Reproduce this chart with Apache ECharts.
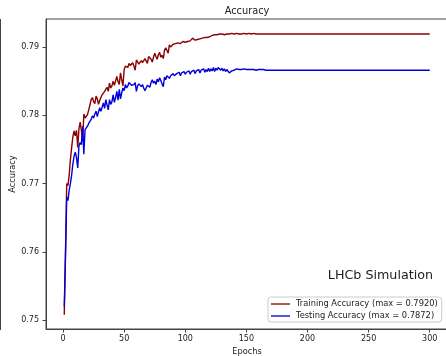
<!DOCTYPE html>
<html>
<head>
<meta charset="utf-8">
<script src="https://cdn.jsdelivr.net/npm/echarts@6/dist/echarts.min.js"></script>
<style>
html,body{margin:0;padding:0;background:#fff;}
#chart{width:446px;height:356px;}
</style>
</head>
<body>
<div id="chart"></div>
<script>
const chartTitle = 'Accuracy';
const xAxisName = 'Epochs';
const yAxisName = 'Accuracy';
const annotation = 'LHCb Simulation';
const firstEpoch = 1;
const xTicks = [0, 50, 100, 150, 200, 250, 300];
const yTicks = [0.75, 0.76, 0.77, 0.78, 0.79];
const trainingName = 'Training Accuracy (max = 0.7920)';
const testingName = 'Testing Accuracy (max = 0.7872)';

const training = [
0.7508,0.7600,0.7700,0.7697,0.7712,0.7735,0.7752,0.7768,0.7777,0.7770,
0.7778,0.7753,0.7780,0.7790,0.7778,0.7762,0.7802,0.7796,0.7795,0.7801,
0.7808,0.7815,0.7823,0.7826,0.7820,0.7817,0.7828,0.7824,0.7816,0.7822,
0.7824,0.7830,0.7828,0.7835,0.7838,0.7841,0.7835,0.7847,0.7840,0.7843,
0.7850,0.7844,0.7850,0.7857,0.7849,0.7845,0.7862,0.7852,0.7843,0.7867,
0.7872,0.7874,0.7870,0.7876,0.7873,0.7875,0.7877,0.7872,0.7866,0.7881,
0.7879,0.7875,0.7877,0.7880,0.7877,0.7879,0.7883,0.7881,0.7876,0.7886,
0.7884,0.7882,0.7878,0.7885,0.7891,0.7886,0.7882,0.7889,0.7892,0.7885,
0.7888,0.7883,0.7895,0.7899,0.7897,0.7891,0.7903,0.7900,0.7899,0.7904,
0.7902,0.7905,0.7903,0.7906,0.7907,0.7905,0.7906,0.7908,0.7906,0.7907,
0.7907,0.7908,0.7906,0.7909,0.7908,0.7913,0.7911,0.7910,0.7912,0.7911,
0.7913,0.7912,0.7914,0.7913,0.7915,0.7914,0.7915,0.7914,0.7916,0.7915,
0.7916,0.7917,0.7916,0.7918,0.7917,0.7918,0.7918,0.7919,0.7918,0.7919,
0.7919,0.7918,0.7919,0.7919,0.7920,0.7919,0.7919,0.7920,0.7919,0.7919,
0.7919,0.7920,0.7919,0.7919,0.7920,0.7919,0.7920,0.7920,0.7920,0.7919,
0.7919,0.7920,0.7919,0.7919,0.7919,0.7920,0.7919,0.7919,0.7919,0.7919,
0.7919,0.7919,0.7920,0.7919,0.7919,0.7919,0.7919,0.7919,0.7920,0.7919,
0.7919,0.7919,0.7919,0.7919,0.7919,0.7919,0.7919,0.7919,0.7919,0.7919,
0.7919,0.7919,0.7919,0.7919,0.7919,0.7919,0.7919,0.7919,0.7919,0.7919,
0.7919,0.7919,0.7919,0.7919,0.7919,0.7919,0.7919,0.7919,0.7919,0.7919,
0.7919,0.7919,0.7919,0.7919,0.7919,0.7919,0.7919,0.7919,0.7919,0.7919,
0.7919,0.7919,0.7919,0.7919,0.7919,0.7919,0.7919,0.7919,0.7919,0.7919,
0.7919,0.7919,0.7919,0.7919,0.7919,0.7919,0.7919,0.7919,0.7919,0.7919,
0.7919,0.7919,0.7919,0.7919,0.7919,0.7919,0.7919,0.7919,0.7919,0.7919,
0.7919,0.7919,0.7919,0.7919,0.7919,0.7919,0.7919,0.7919,0.7919,0.7919,
0.7919,0.7919,0.7919,0.7919,0.7919,0.7919,0.7919,0.7919,0.7919,0.7919,
0.7919,0.7919,0.7919,0.7919,0.7919,0.7919,0.7919,0.7919,0.7919,0.7919,
0.7919,0.7919,0.7919,0.7919,0.7919,0.7919,0.7919,0.7919,0.7919,0.7919,
0.7919,0.7919,0.7919,0.7919,0.7919,0.7919,0.7919,0.7919,0.7919,0.7919,
0.7919,0.7919,0.7919,0.7919,0.7919,0.7919,0.7919,0.7919,0.7919,0.7919
];

const testing = [
0.7520,0.7593,0.7680,0.7675,0.7690,0.7700,0.7712,0.7728,0.7740,0.7746,
0.7738,0.7723,0.7755,0.7760,0.7757,0.7784,0.7743,0.7779,0.7780,0.7784,
0.7788,0.7791,0.7794,0.7799,0.7796,0.7802,0.7806,0.7798,0.7805,0.7811,
0.7806,0.7812,0.7818,0.7810,0.7823,0.7815,0.7808,0.7823,0.7816,0.7820,
0.7830,0.7819,0.7826,0.7835,0.7822,0.7838,0.7824,0.7833,0.7840,0.7836,
0.7845,0.7840,0.7843,0.7848,0.7850,0.7844,0.7846,0.7845,0.7848,0.7835,
0.7843,0.7846,0.7844,0.7842,0.7845,0.7840,0.7836,0.7838,0.7844,0.7846,
0.7841,0.7848,0.7852,0.7847,0.7850,0.7845,0.7853,0.7849,0.7855,0.7851,
0.7846,0.7842,0.7856,0.7852,0.7858,0.7860,0.7854,0.7858,0.7857,0.7861,
0.7858,0.7856,0.7861,0.7859,0.7863,0.7858,0.7862,0.7860,0.7864,0.7860,
0.7863,0.7861,0.7865,0.7860,0.7864,0.7862,0.7866,0.7861,0.7865,0.7863,
0.7867,0.7862,0.7866,0.7864,0.7868,0.7863,0.7867,0.7864,0.7869,0.7864,
0.7868,0.7865,0.7870,0.7864,0.7869,0.7866,0.7870,0.7872,0.7866,0.7869,
0.7865,0.7868,0.7864,0.7867,0.7866,0.7862,0.7861,0.7865,0.7867,0.7866,
0.7867,0.7868,0.7867,0.7867,0.7866,0.7867,0.7867,0.7868,0.7867,0.7867,
0.7867,0.7867,0.7866,0.7867,0.7867,0.7867,0.7867,0.7866,0.7867,0.7867,
0.7867,0.7867,0.7867,0.7867,0.7866,0.7866,0.7867,0.7866,0.7866,0.7866,
0.7866,0.7866,0.7866,0.7866,0.7866,0.7866,0.7866,0.7866,0.7866,0.7866,
0.7866,0.7866,0.7866,0.7866,0.7866,0.7866,0.7866,0.7866,0.7866,0.7866,
0.7866,0.7866,0.7866,0.7866,0.7866,0.7866,0.7866,0.7866,0.7866,0.7866,
0.7866,0.7866,0.7866,0.7866,0.7866,0.7866,0.7866,0.7866,0.7866,0.7866,
0.7866,0.7866,0.7866,0.7866,0.7866,0.7866,0.7866,0.7866,0.7866,0.7866,
0.7866,0.7866,0.7866,0.7866,0.7866,0.7866,0.7866,0.7866,0.7866,0.7866,
0.7866,0.7866,0.7866,0.7866,0.7866,0.7866,0.7866,0.7866,0.7866,0.7866,
0.7866,0.7866,0.7866,0.7866,0.7866,0.7866,0.7866,0.7866,0.7866,0.7866,
0.7866,0.7866,0.7866,0.7866,0.7866,0.7866,0.7866,0.7866,0.7866,0.7866,
0.7866,0.7866,0.7866,0.7866,0.7866,0.7866,0.7866,0.7866,0.7866,0.7866,
0.7866,0.7866,0.7866,0.7866,0.7866,0.7866,0.7866,0.7866,0.7866,0.7866,
0.7866,0.7866,0.7866,0.7866,0.7866,0.7866,0.7866,0.7866,0.7866,0.7866,
0.7866,0.7866,0.7866,0.7866,0.7866,0.7866,0.7866,0.7866,0.7866,0.7866
];

const FONT = 'DejaVu Sans';
const TXT = '#222';
const SPINE = '#444';
const RED = '#8b0000';
const BLUE = '#0000dd';
const LEGEND_LINE = 'path://M0,0 L20,0 L20,1.4 L0,1.4 Z';

const chart = echarts.init(document.getElementById('chart'), null, {renderer: 'canvas'});
const toPairs = arr => arr.map((v, i) => [i + firstEpoch, v]);

chart.setOption({
  animation: false,
  backgroundColor: '#fff',
  textStyle: {fontFamily: FONT},
  title: {
    text: chartTitle,
    left: 247, top: 6, textAlign: 'center', padding: 0,
    textStyle: {fontFamily: FONT, fontSize: 9.8, fontWeight: 'normal', color: TXT}
  },
  grid: {
    left: 46, top: 19, right: -2, bottom: 27,
    containLabel: false,
    outerBoundsMode: 'none',
    show: true, borderColor: SPINE, borderWidth: 1, backgroundColor: 'transparent'
  },
  legend: {
    orient: 'vertical',
    left: 268, top: 297,
    itemWidth: 19, itemHeight: 9, itemGap: 4,
    padding: [3, 4, 2, 3],
    borderColor: '#ccc', borderWidth: 1, borderRadius: 3,
    backgroundColor: 'rgba(255,255,255,0.8)',
    textStyle: {fontFamily: FONT, fontSize: 8.3, color: TXT, padding: [0, 0, 0, 1]},
    data: [
      {name: trainingName, icon: LEGEND_LINE, itemStyle: {color: RED}},
      {name: testingName, icon: LEGEND_LINE, itemStyle: {color: BLUE}}
    ]
  },
  xAxis: {
    type: 'value',
    min: -13.95, max: 314.95,
    name: xAxisName, nameLocation: 'middle', nameGap: 19, nameMoveOverlap: false,
    nameTextStyle: {fontFamily: FONT, fontSize: 8.2, color: TXT},
    axisLine: {show: true, onZero: false, lineStyle: {color: SPINE}},
    axisTick: {show: true, length: 3.5, inside: false, customValues: xTicks, lineStyle: {color: SPINE}},
    axisLabel: {customValues: xTicks, margin: 6, fontFamily: FONT, fontSize: 8, color: TXT},
    splitLine: {show: false}
  },
  yAxis: {
    type: 'value',
    min: 0.7487, max: 0.7941,
    name: yAxisName, nameLocation: 'middle', nameGap: 29, nameMoveOverlap: false,
    nameTextStyle: {fontFamily: FONT, fontSize: 8.2, color: TXT},
    axisLine: {show: true, onZero: false, lineStyle: {color: SPINE}},
    axisTick: {show: true, length: 3.5, inside: false, customValues: yTicks, lineStyle: {color: SPINE}},
    axisLabel: {customValues: yTicks, margin: 7, fontFamily: FONT, fontSize: 8, color: TXT,
      formatter: v => Number(v).toFixed(2)},
    splitLine: {show: false}
  },
  graphic: [
    {type: 'line', shape: {x1: 0.5, y1: 19, x2: 0.5, y2: 330}, style: {stroke: SPINE, lineWidth: 1}},
    {type: 'text', x: 433, y: 276, style: {text: annotation, font: '12.7px "DejaVu Sans"', fill: TXT, textAlign: 'right', textVerticalAlign: 'middle'}}
  ],
  series: [
    {name: trainingName, type: 'line', data: toPairs(training), symbol: 'none', showSymbol: false,
     lineStyle: {color: RED, width: 1.4}, itemStyle: {color: RED}},
    {name: testingName, type: 'line', data: toPairs(testing), symbol: 'none', showSymbol: false,
     lineStyle: {color: BLUE, width: 1.4}, itemStyle: {color: BLUE}}
  ]
});
</script>
</body>
</html>
